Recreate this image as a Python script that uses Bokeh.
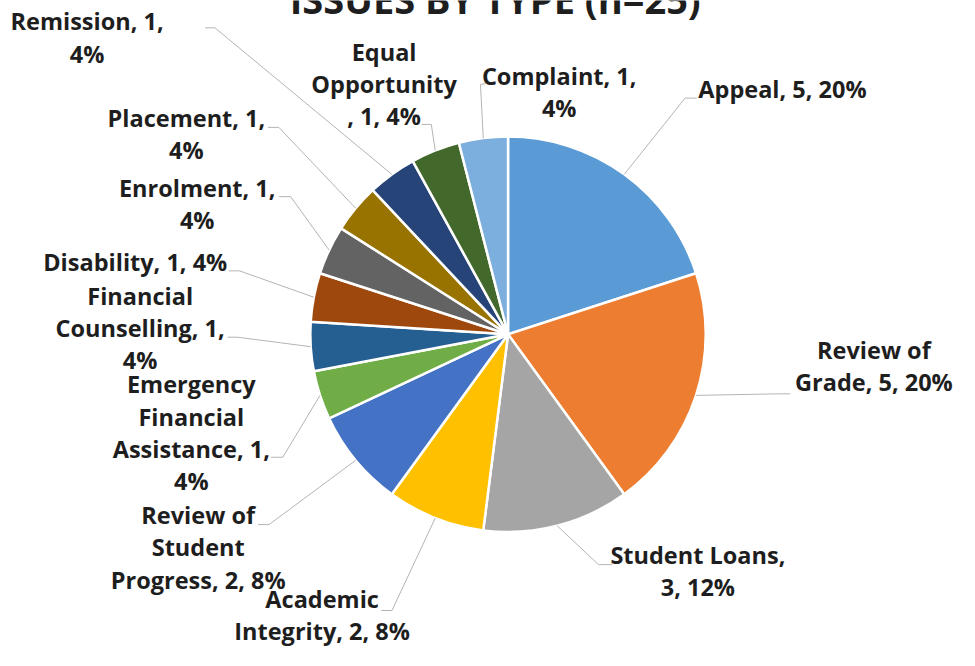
import math
from bokeh.plotting import figure
from bokeh.models import Range1d
from bokeh.core.properties import value
from bokeh.embed import file_html
from bokeh.resources import INLINE

# ---------------- data ----------------
categories = ["Appeal", "Review of Grade", "Student Loans", "Academic Integrity",
              "Review of Student Progress", "Emergency Financial Assistance",
              "Financial Counselling", "Disability", "Enrolment", "Placement",
              "Remission", "Equal Opportunity", "Complaint"]
counts = [5, 5, 3, 2, 2, 1, 1, 1, 1, 1, 1, 1, 1]
colors = ["#5B9BD5", "#ED7D31", "#A5A5A5", "#FFC000", "#4472C4", "#70AD47",
          "#255E91", "#9E480E", "#636363", "#997300", "#264478", "#43682B", "#7CAFDD"]
title_text = "ISSUES BY TYPE (n=25)"

# ---------------- layout (reference-image pixel coordinates) ----------------
W, H = 959, 650          # figure size in screen px
REF_W, REF_H = 975, 666  # layout coordinate space
PIE_C = (516, 342)
PIE_R = 201
LINE_STEP = 33
FONT = "Open Sans"
FS_PX = 23.5
TEXT_COLOR = "#1e1e1e"
LEADER = "#b4b4b4"
BASELINE_FIX = 0.4       # em, renderer places alphabetic baseline this much lower

# label: lines, center x, first baseline y, leader start, leader elbow
label_layout = {
    "Appeal": (["Appeal, 5, 20%"], 795, 100, (708, 100), (696, 100)),
    "Review of Grade": (["Review of", "Grade, 5, 20%"], 888, 368, (803, 403), (792, 403)),
    "Student Loans": (["Student Loans,", "3, 12%"], 709, 578, (622, 578), (608, 578)),
    "Academic Integrity": (["Academic", "Integrity, 2, 8%"], 327, 623, (387, 625), (398, 625)),
    "Review of Student Progress": (["Review of", "Student", "Progress, 2, 8%"], 201, 537, (262, 537), (273, 537)),
    "Emergency Financial Assistance": (["Emergency", "Financial", "Assistance, 1,", "4%"], 194, 403, (275, 468), (287, 468)),
    "Financial Counselling": (["Financial", "Counselling, 1,", "4%"], 142, 312, (231, 345), (241, 345)),
    "Disability": (["Disability, 1, 4%"], 137, 278, (232, 277), (243, 277)),
    "Enrolment": (["Enrolment, 1,", "4%"], 200, 202, (283, 201), (295, 201)),
    "Placement": (["Placement, 1,", "4%"], 189, 130, (272, 130), (283, 130)),
    "Remission": (["Remission, 1,", "4%"], 88, 31, (208, 28), (218, 28)),
    "Equal Opportunity": (["Equal", "Opportunity", ", 1, 4%"], 390, 62, (428, 127), (438, 127)),
    "Complaint": (["Complaint, 1,", "4%"], 568, 87, (493, 85), (488, 86)),
}
TITLE_POS = (503, 14)
TITLE_FS_PX = 38

kx = W / REF_W
ky = H / REF_H


def fx(ix):
    return ix


def fy(iy):
    return REF_H - iy


def text_y(iy, fs_px):
    return fy(iy) + BASELINE_FIX * fs_px / ky


p = figure(width=W, height=H, output_backend="svg", toolbar_location=None,
           x_range=Range1d(0, REF_W), y_range=Range1d(0, REF_H), min_border=0)
p.axis.visible = False
p.grid.visible = False
p.outline_line_color = None
p.background_fill_color = "white"
p.border_fill_color = "white"

total = sum(counts)
cx, cy = fx(PIE_C[0]), fy(PIE_C[1])
R_y = PIE_R * kx / ky  # circle radius expressed in y data units

starts, ends, mids = [], [], []
cum = 0
for c in counts:
    a0 = math.pi / 2 - 2 * math.pi * cum / total
    cum += c
    a1 = math.pi / 2 - 2 * math.pi * cum / total
    starts.append(a0)
    ends.append(a1)
    mids.append((a0 + a1) / 2)

p.wedge(x=[cx] * len(counts), y=[cy] * len(counts), radius=PIE_R,
        start_angle=starts, end_angle=ends, direction="clock",
        fill_color=colors, line_color="white", line_width=2.5)

# leader lines
xs, ys = [], []
for cat, m in zip(categories, mids):
    lines, lx, ly, st, el = label_layout[cat]
    ex = cx + PIE_R * math.cos(m)
    ey = cy + R_y * math.sin(m)
    xs.append([fx(st[0]), fx(el[0]), ex])
    ys.append([fy(st[1]), fy(el[1]), ey])
p.multi_line(xs=xs, ys=ys, line_color=LEADER, line_width=1)

# labels
tx, ty, tt = [], [], []
for cat, c in zip(categories, counts):
    lines, lx, ly, st, el = label_layout[cat]
    for i, s in enumerate(lines):
        tx.append(fx(lx))
        ty.append(text_y(ly + i * LINE_STEP, FS_PX))
        tt.append(s)
p.text(x=tx, y=ty, text=tt, text_font=value(FONT), text_font_style="bold",
       text_font_size=f"{FS_PX}px", text_color=TEXT_COLOR, text_align="center",
       text_baseline="alphabetic")

p.text(x=[fx(TITLE_POS[0])], y=[text_y(TITLE_POS[1], TITLE_FS_PX)], text=[title_text],
       text_font=value(FONT), text_font_style="bold", text_font_size=f"{TITLE_FS_PX}px",
       text_color=TEXT_COLOR, text_align="center", text_baseline="alphabetic")

open("out.html", "w").write(file_html(p, INLINE))
